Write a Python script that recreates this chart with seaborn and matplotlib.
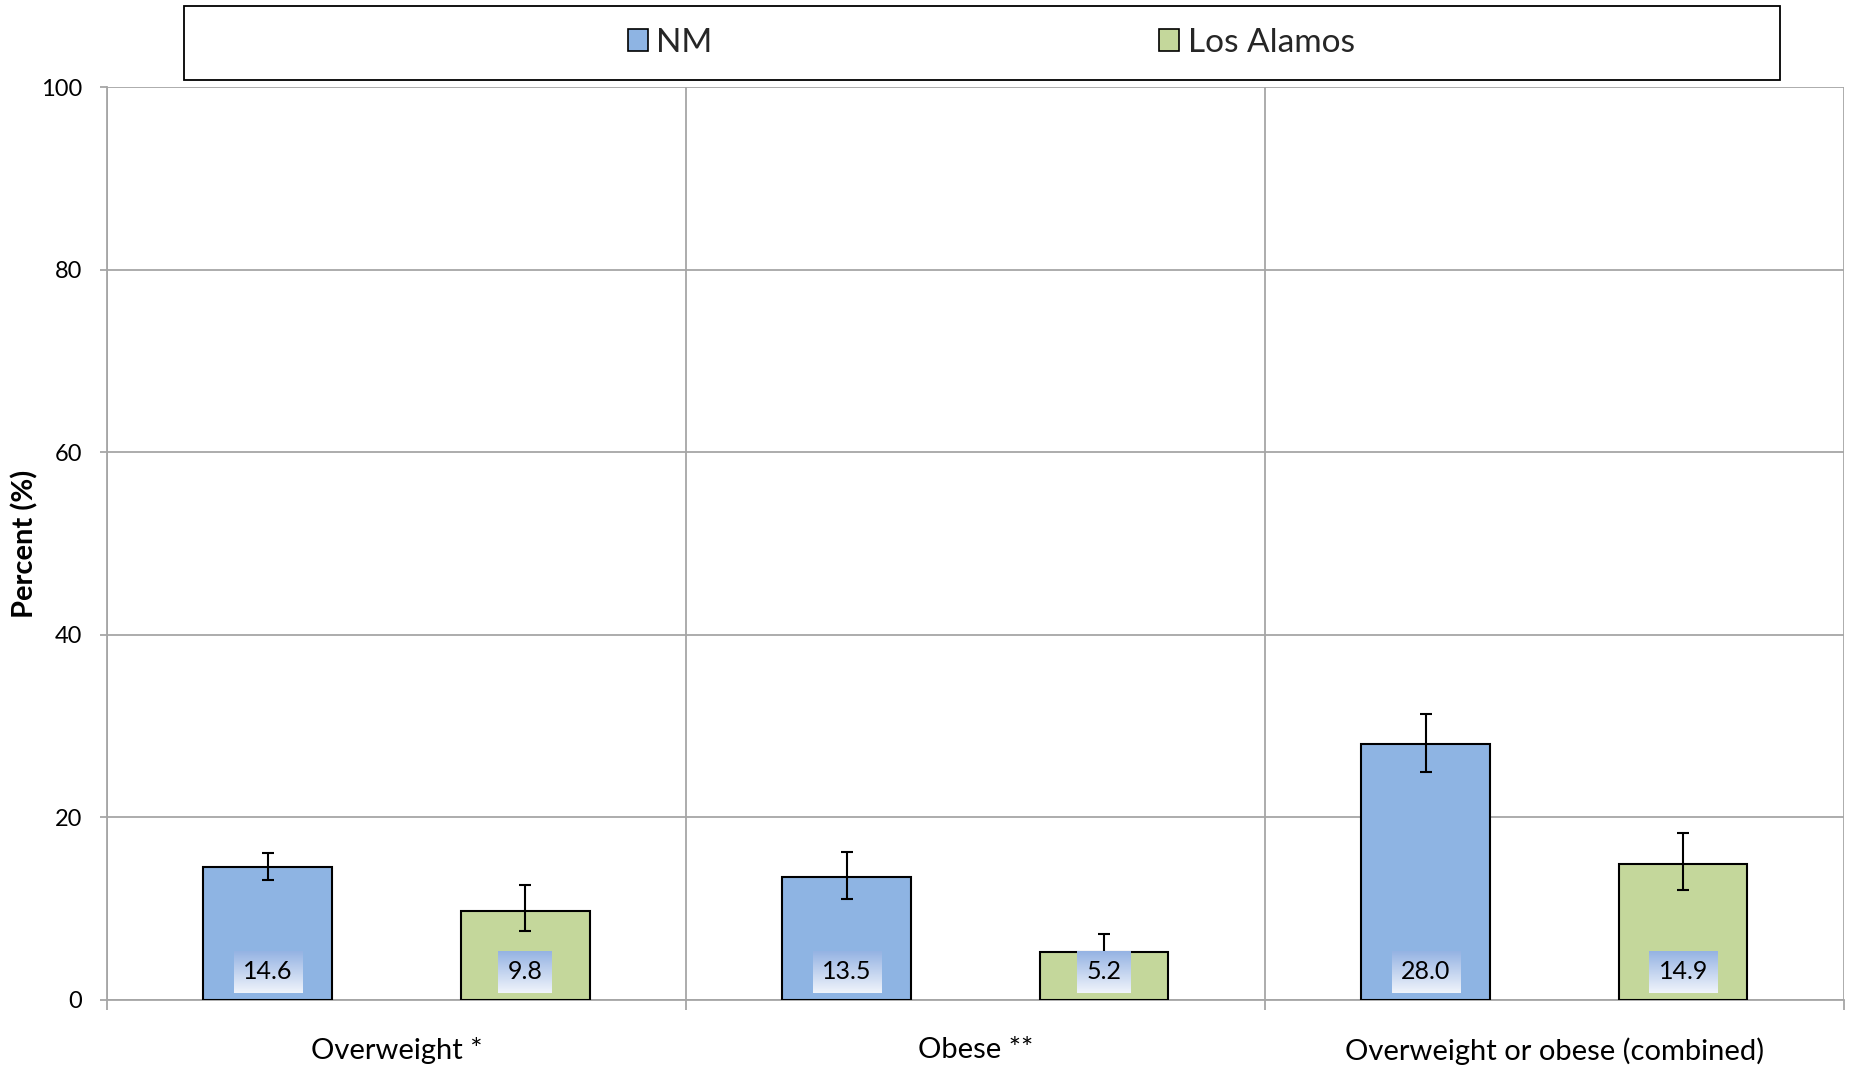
import numpy as np
import pandas as pd
import matplotlib
matplotlib.use('Agg')
import matplotlib.pyplot as plt
import seaborn as sns
from matplotlib.patches import Patch, Rectangle
from matplotlib.colors import LinearSegmentedColormap

# ---- data ----
categories = ["Overweight *", "Obese **", "Overweight or obese (combined)"]
regions = ["NM", "Los Alamos"]
nm_values = [14.6, 13.5, 28.0]
la_values = [9.8, 5.2, 14.9]
nm_lower = [13.1, 11.1, 25.0]
nm_upper = [16.1, 16.2, 31.3]
la_lower = [7.5, 3.6, 12.1]
la_upper = [12.6, 7.2, 18.3]
y_ticks = [0, 20, 40, 60, 80, 100]
colors = {"NM": "#8eb4e3", "Los Alamos": "#c4d79b"}

sns.set_theme(style="ticks")
plt.rcParams['font.family'] = ['Lato', 'DejaVu Sans']

df = pd.DataFrame({
    "category": categories * 2,
    "region": ["NM"] * 3 + ["Los Alamos"] * 3,
    "value": nm_values + la_values,
})

fig = plt.figure(figsize=(18.51, 10.68), dpi=100)
fig.patch.set_facecolor('white')
ax = fig.add_axes([0.0578, 0.0637, 0.9384, 0.8548])

sns.barplot(data=df, x="category", y="value", hue="region", order=categories,
            hue_order=regions, palette=colors, saturation=1, width=0.889, gap=0.5,
            edgecolor="black", linewidth=1.5, errorbar=None, legend=False,
            ax=ax, zorder=3)

lows = [nm_lower, la_lower]
highs = [nm_upper, la_upper]
vals = [nm_values, la_values]
texts = []
for cont, lo, hi, v in zip(ax.containers, lows, highs, vals):
    xs = np.array([b.get_x() + b.get_width() / 2 for b in cont])
    ys = np.array([b.get_height() for b in cont])
    yerr = [ys - np.array(lo), np.array(hi) - ys]
    ax.errorbar(xs, ys, yerr=yerr, fmt='none', ecolor='black', elinewidth=1.5,
                capsize=4.5, capthick=1.5, zorder=4)
    for x, val in zip(xs, v):
        t = ax.text(x, 3.1, f"{val:.1f}", ha='center', va='center',
                    fontsize=18, color='black', zorder=6)
        texts.append(t)

grid_c = '#a6a6a6'
ax.set_xlim(-0.5, 2.5)
ax.set_ylim(0, 100)
ax.set_yticks(y_ticks)
ax.set_axisbelow(True)
ax.yaxis.grid(True, color=grid_c, lw=1.3)
ax.set_xticks([-0.5, 0.5, 1.5, 2.5], minor=True)
ax.xaxis.grid(True, which='minor', color=grid_c, lw=1.3)
ax.xaxis.grid(False, which='major')
ax.tick_params(axis='x', which='major', length=0, pad=27, labelsize=21, colors='black')
ax.tick_params(axis='x', which='minor', length=7, width=1.3, color=grid_c, direction='out', bottom=True)
ax.tick_params(axis='y', length=5, width=1.3, color=grid_c, pad=13, labelsize=17, labelcolor='black', left=True)
for s in ['top', 'right']:
    ax.spines[s].set_visible(False)
for s in ['left', 'bottom']:
    ax.spines[s].set_color(grid_c)
    ax.spines[s].set_linewidth(1.3)
ax.set_xlabel('')
ax.set_ylabel('Percent (%)', fontweight='bold', fontsize=21, labelpad=2, color='black')

# gradient boxes behind value labels
cmap = LinearSegmentedColormap.from_list('g', ['#95b3e3', '#f0f4fb'])
grad = np.linspace(0, 1, 64).reshape(-1, 1)
fig.canvas.draw()
r = fig.canvas.get_renderer()
inv = ax.transData.inverted()
for t in texts:
    bb = t.get_window_extent(r)
    cx = (bb.x0 + bb.x1) / 2
    cy = (bb.y0 + bb.y1) / 2
    w = bb.width + 19
    h = 42
    x0, y0 = inv.transform((cx - w / 2, cy - h / 2))
    x1, y1 = inv.transform((cx + w / 2, cy + h / 2))
    ax.imshow(grad, extent=[x0, x1, y0, y1], aspect='auto', cmap=cmap, zorder=5)
ax.set_xlim(-0.5, 2.5)
ax.set_ylim(0, 100)

# legend box
fig.add_artist(Rectangle((0.0994, 0.925), 0.8622, 0.0693, transform=fig.transFigure,
                         fill=False, ec='black', lw=1.3))
handles = [Patch(facecolor=colors[g], edgecolor='black', linewidth=1.2, label=g) for g in regions]
fig.legend(handles=handles, loc='center', bbox_to_anchor=(0.5355, 0.9597), ncol=2,
           frameon=False, fontsize=24, handlelength=0.6, handleheight=0.65,
           handletextpad=0.25, columnspacing=13.4)

fig.savefig('out.png', dpi=100, facecolor='white')
